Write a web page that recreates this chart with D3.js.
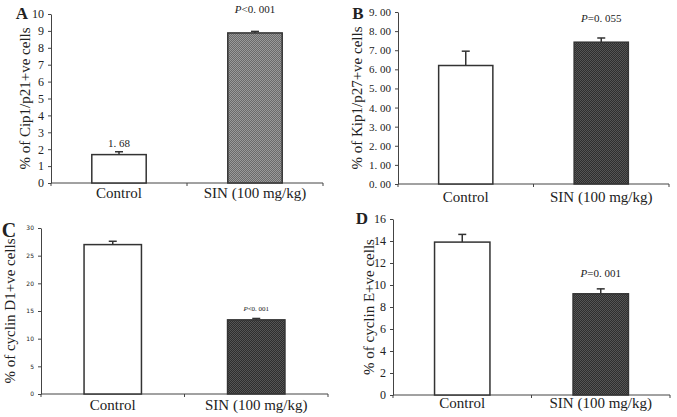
<!DOCTYPE html>
<html>
<head>
<meta charset="utf-8">
<script src="https://cdn.jsdelivr.net/npm/d3@7"></script>
<style>
  body { margin: 0; background: #fff; }
  text { fill: #222; }
</style>
</head>
<body>
<div id="chart"></div>
<script>
const categories = ["Control", "SIN (100 mg/kg)"];

const cip1Means = [1.68, 8.88];
const cip1Errors = [0.17, 0.09];
const cip1Ticks = [0, 1, 2, 3, 4, 5, 6, 7, 8, 9, 10];

const kip1Means = [6.2, 7.42];
const kip1Errors = [0.75, 0.22];
const kip1Ticks = [0, 1, 2, 3, 4, 5, 6, 7, 8, 9];

const cyclinD1Means = [27.0, 13.4];
const cyclinD1Errors = [0.6, 0.25];
const cyclinD1Ticks = [0, 5, 10, 15, 20, 25, 30];

const cyclinEMeans = [13.9, 9.2];
const cyclinEErrors = [0.7, 0.45];
const cyclinETicks = [0, 2, 4, 6, 8, 10, 12, 14, 16];

const width = 677, height = 417;
const SERIF = "'Liberation Serif', 'Times New Roman', 'DejaVu Serif', serif";

const svg = d3.select("#chart").append("svg")
    .attr("width", width)
    .attr("height", height);

// checker patterns for the treated bars
const defs = svg.append("defs");
function checker(id, c1, c2) {
    const p = defs.append("pattern")
        .attr("id", id)
        .attr("width", 2).attr("height", 2)
        .attr("patternUnits", "userSpaceOnUse");
    p.append("rect").attr("width", 2).attr("height", 2).attr("fill", c1);
    p.append("rect").attr("width", 1).attr("height", 1).attr("fill", c2);
    p.append("rect").attr("x", 1).attr("y", 1).attr("width", 1).attr("height", 1).attr("fill", c2);
}
checker("grayA", "#6a6a6a", "#9a9a9a");
checker("grayDark", "#2e2e2e", "#555");

const panels = [
    { letter: "A", means: cip1Means, errs: cip1Errors, ticks: cip1Ticks, fmt: d => d,
      label: "% of Cip1/p21+ve cells", x0: 51, x1: 323, yTop: 14, yBot: 183,
      tickFont: SERIF, tickSize: 12, fill: "url(#grayA)",
      pText: "<0. 001", pY: 13, pSize: 11, extra: "1. 68",
      letterX: 22, letterY: 19, letterSize: 17, labelX: 30, xLabY: 198 },
    { letter: "B", means: kip1Means, errs: kip1Errors, ticks: kip1Ticks, fmt: d => d.toFixed(2).replace(".", ". "),
      label: "% of Kip1/p27+ve cells", x0: 398, x1: 669, yTop: 12, yBot: 184,
      tickFont: SERIF, tickSize: 11, fill: "url(#grayDark)",
      pText: "=0. 055", pY: 22, pSize: 11, extra: null,
      letterX: 358, letterY: 19, letterSize: 17, labelX: 362, xLabY: 202 },
    { letter: "C", means: cyclinD1Means, errs: cyclinD1Errors, ticks: cyclinD1Ticks, fmt: d => d,
      label: "% of cyclin D1+ve cells", x0: 41, x1: 328, yTop: 228, yBot: 394,
      tickFont: "DejaVu Sans", tickSize: 6, fill: "url(#grayDark)",
      pText: "<0. 001", pY: 311, pSize: 7, extra: null,
      letterX: 9, letterY: 237, letterSize: 20, labelX: 15, xLabY: 410 },
    { letter: "D", means: cyclinEMeans, errs: cyclinEErrors, ticks: cyclinETicks, fmt: d => d,
      label: "% of cyclin E+ve cells", x0: 393, x1: 670, yTop: 219, yBot: 395,
      tickFont: SERIF, tickSize: 12, fill: "url(#grayDark)",
      pText: "=0. 001", pY: 277, pSize: 11, extra: null,
      letterX: 362, letterY: 224, letterSize: 17, labelX: 374, xLabY: 408 }
];

panels.forEach(p => {
    const g = svg.append("g");
    const maxTick = d3.max(p.ticks);

    const x = d3.scaleBand()
        .domain(categories)
        .range([p.x0, p.x1])
        .paddingInner(0.6)
        .paddingOuter(0.3);

    const y = d3.scaleLinear()
        .domain([0, maxTick])
        .range([p.yBot, p.yTop]);

    // y axis
    const yAxis = d3.axisLeft(y)
        .tickValues(p.ticks)
        .tickFormat(p.fmt)
        .tickSize(3)
        .tickSizeOuter(0)
        .tickPadding(4);

    const ya = g.append("g")
        .attr("transform", `translate(${p.x0},0)`)
        .call(yAxis);
    ya.select(".domain").attr("stroke", "#444");
    ya.selectAll(".tick line").attr("stroke", "#444");
    ya.selectAll(".tick text")
        .attr("font-family", p.tickFont)
        .attr("font-size", p.tickSize)
        .attr("fill", "#222");

    // x axis baseline with boundary ticks
    g.append("line")
        .attr("x1", p.x0).attr("x2", p.x1)
        .attr("y1", p.yBot).attr("y2", p.yBot)
        .attr("stroke", "#444");
    const step = x.step();
    [0, 1, 2].forEach(i => {
        const xx = p.x0 + i * step;
        g.append("line")
            .attr("x1", xx).attr("x2", xx)
            .attr("y1", p.yBot).attr("y2", p.yBot + 3)
            .attr("stroke", "#444");
    });

    // bars
    g.selectAll("rect.bar")
        .data(categories)
        .join("rect")
        .attr("class", "bar")
        .attr("x", d => x(d))
        .attr("y", (d, i) => y(p.means[i]))
        .attr("width", x.bandwidth())
        .attr("height", (d, i) => y(0) - y(p.means[i]))
        .attr("fill", (d, i) => i === 0 ? "#fff" : p.fill)
        .attr("stroke", "#333")
        .attr("stroke-width", 1.5);

    // error bars
    categories.forEach((c, i) => {
        const cx = x(c) + x.bandwidth() / 2;
        const top = y(p.means[i] + p.errs[i]);
        g.append("line")
            .attr("x1", cx).attr("x2", cx)
            .attr("y1", y(p.means[i])).attr("y2", top)
            .attr("stroke", "#333").attr("stroke-width", 1.5);
        g.append("line")
            .attr("x1", cx - 4).attr("x2", cx + 4)
            .attr("y1", top).attr("y2", top)
            .attr("stroke", "#333").attr("stroke-width", 1.5);
    });

    // x labels
    g.selectAll("text.xlab")
        .data(categories)
        .join("text")
        .attr("class", "xlab")
        .attr("x", d => x(d) + x.bandwidth() / 2)
        .attr("y", p.xLabY)
        .attr("text-anchor", "middle")
        .attr("font-family", SERIF)
        .attr("font-size", 15)
        .text(d => d);

    // y label
    g.append("text")
        .attr("transform", `translate(${p.labelX},${(p.yTop + p.yBot) / 2}) rotate(-90)`)
        .attr("text-anchor", "middle")
        .attr("font-family", SERIF)
        .attr("font-size", 15)
        .text(p.label);

    // panel letter
    g.append("text")
        .attr("x", p.letterX)
        .attr("y", p.letterY)
        .attr("text-anchor", "middle")
        .attr("font-family", SERIF)
        .attr("font-weight", "bold")
        .attr("font-size", p.letterSize)
        .text(p.letter);

    // p value
    const sinX = x(categories[1]) + x.bandwidth() / 2;
    const pt = g.append("text")
        .attr("x", sinX)
        .attr("y", p.pY)
        .attr("text-anchor", "middle")
        .attr("font-family", SERIF)
        .attr("font-size", p.pSize);
    pt.append("tspan").attr("font-style", "italic").text("P");
    pt.append("tspan").text(p.pText);

    if (p.extra) {
        const cx = x(categories[0]) + x.bandwidth() / 2;
        g.append("text")
            .attr("x", cx)
            .attr("y", y(p.means[0] + p.errs[0]) - 5)
            .attr("text-anchor", "middle")
            .attr("font-family", SERIF)
            .attr("font-size", 11)
            .text(p.extra);
    }
});
</script>
</body>
</html>
